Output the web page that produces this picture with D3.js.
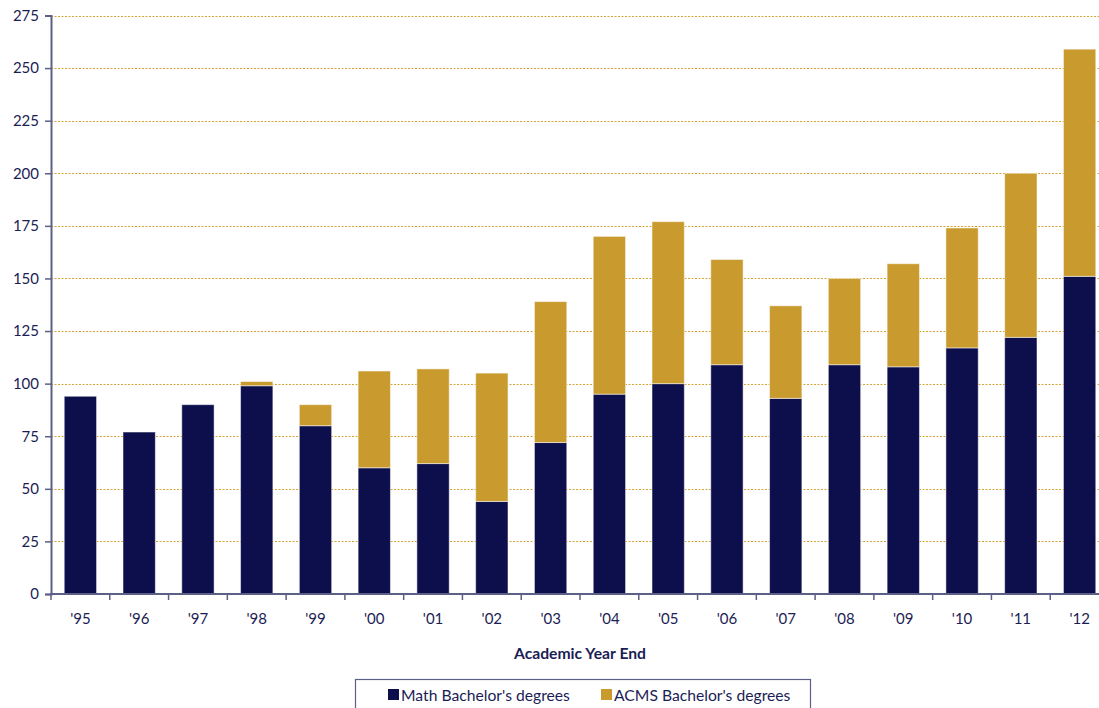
<!DOCTYPE html>
<html>
<head>
<meta charset="utf-8">
<script src="https://cdn.jsdelivr.net/npm/d3@7"></script>
<style>
  body { margin: 0; background: #fff; }
  svg { display: block; font-family: Lato, "Open Sans", sans-serif; }
</style>
</head>
<body>
<div id="chart"></div>
<script>
const years = ["'95","'96","'97","'98","'99","'00","'01","'02","'03","'04","'05","'06","'07","'08","'09","'10","'11","'12"]
const math = [94, 77, 90, 99, 80, 60, 62, 44, 72, 95, 100, 109, 93, 109, 108, 117, 122, 151]
const acms = [0, 0, 0, 2, 10, 46, 45, 61, 67, 75, 77, 50, 44, 41, 49, 57, 78, 108]
const yTicks = [0, 25, 50, 75, 100, 125, 150, 175, 200, 225, 250, 275]
const seriesNames = ["Math Bachelor's degrees", "ACMS Bachelor's degrees"]
const seriesColors = ["#0c0f4b", "#c99a2e"]

const width = 1099
const height = 708
const textColor = "#1b1d55"

const svg = d3.select("#chart").append("svg")
  .attr("width", width)
  .attr("height", height)

// plot area runs a little past the right edge, as in the source image
const x = d3.scaleBand()
  .domain(years)
  .range([51, 1109])
  .paddingInner(0.45)
  .paddingOuter(0.225)

const y = d3.scaleLinear()
  .domain([0, 275])
  .range([594, 15.5])

const table = years.map((yr, i) => ({year: yr, math: math[i], acms: acms[i]}))
const stack = d3.stack().keys(["math", "acms"])(table)

// gridlines
svg.append("g")
  .selectAll("line")
  .data(yTicks.filter(d => d > 0))
  .join("line")
    .attr("x1", 51).attr("x2", width)
    .attr("y1", d => Math.round(y(d)) + 0.5)
    .attr("y2", d => Math.round(y(d)) + 0.5)
    .attr("stroke", "#d4a534")
    .attr("stroke-width", 1)
    .attr("stroke-dasharray", "2,1.5")

// bars
svg.append("g")
  .selectAll("g")
  .data(stack)
  .join("g")
    .attr("fill", (d, i) => seriesColors[i])
  .selectAll("rect")
  .data(d => d.filter(p => p[1] > p[0]))
  .join("rect")
    .attr("x", d => x(d.data.year))
    .attr("y", d => y(d[1]))
    .attr("width", x.bandwidth())
    .attr("height", d => y(d[0]) - y(d[1]))
    .attr("stroke", "#ffffff")
    .attr("stroke-opacity", 0.5)
    .attr("stroke-width", 1)

// y axis
const yAxis = svg.append("g")
  .attr("transform", "translate(51,0)")
  .call(d3.axisLeft(y).tickValues(yTicks).tickSize(6).tickPadding(6))
yAxis.select(".domain").attr("stroke", "#5c5f86").attr("stroke-width", 2)
yAxis.selectAll(".tick line").attr("stroke", "#5c5f86").attr("stroke-width", 1.5)
yAxis.selectAll(".tick text")
  .attr("fill", textColor)
  .attr("font-size", 15)
  .attr("font-family", "Lato, 'Open Sans', sans-serif")

// x axis
const xAxis = svg.append("g")
  .attr("transform", "translate(0,594)")
  .call(d3.axisBottom(x).tickSize(0).tickPadding(19).tickSizeOuter(0))
xAxis.select(".domain").remove()
xAxis.selectAll(".tick text")
  .attr("fill", textColor)
  .attr("font-size", 15)
  .attr("font-family", "Lato, 'Open Sans', sans-serif")

svg.append("line")
  .attr("x1", 50).attr("x2", width)
  .attr("y1", 594).attr("y2", 594)
  .attr("stroke", "#5c5f86")
  .attr("stroke-width", 2)

// tick marks between categories
const step = x.step()
svg.append("g")
  .selectAll("line")
  .data(d3.range(years.length + 1))
  .join("line")
    .attr("x1", i => 51 + i * step)
    .attr("x2", i => 51 + i * step)
    .attr("y1", 594).attr("y2", 600)
    .attr("stroke", "#5c5f86")
    .attr("stroke-width", 1.5)

// axis title
svg.append("text")
  .attr("x", 580)
  .attr("y", 659)
  .attr("text-anchor", "middle")
  .attr("font-size", 15.7)
  .attr("font-weight", "bold")
  .attr("fill", textColor)
  .text("Academic Year End")

// legend
svg.append("rect")
  .attr("x", 355.5).attr("y", 679.5)
  .attr("width", 455).attr("height", 40)
  .attr("fill", "none")
  .attr("stroke", "#5c5f86")
  .attr("stroke-width", 1.2)

const legendX = [388, 601]
const legend = svg.append("g")
  .selectAll("g")
  .data(seriesNames)
  .join("g")
    .attr("transform", (d, i) => `translate(${legendX[i]},0)`)

legend.append("rect")
  .attr("x", 0).attr("y", 689)
  .attr("width", 11).attr("height", 11)
  .attr("fill", (d, i) => seriesColors[i])

legend.append("text")
  .attr("x", 13).attr("y", 701)
  .attr("font-size", 15.7)
  .attr("fill", textColor)
  .text(d => d)
</script>
</body>
</html>
